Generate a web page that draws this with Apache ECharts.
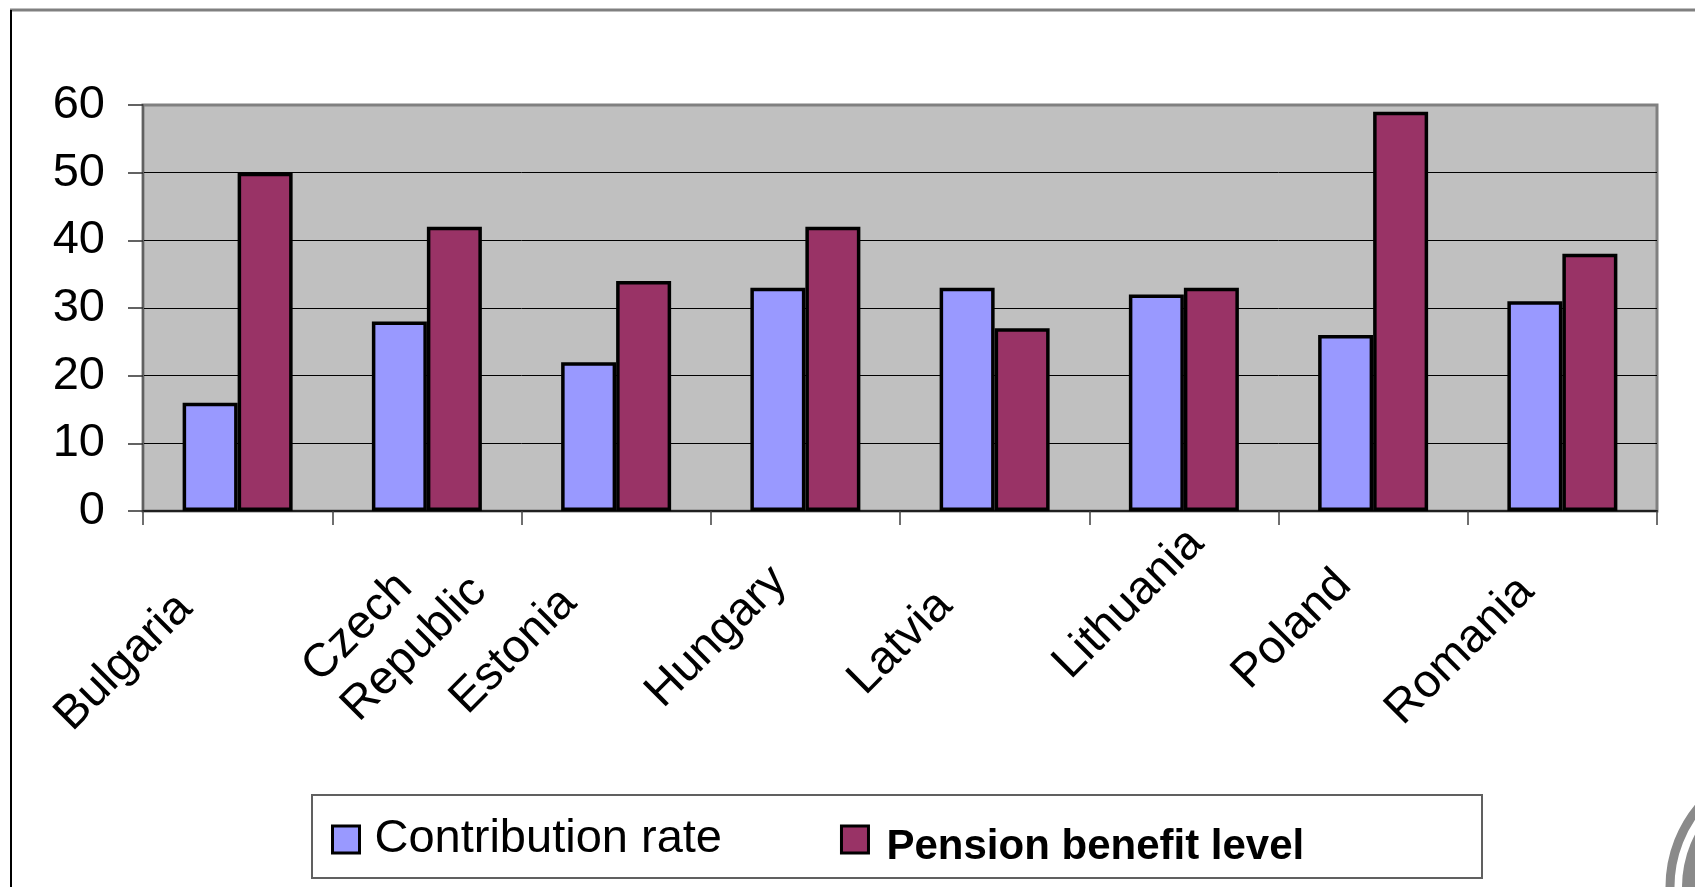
<!DOCTYPE html>
<html>
<head>
<meta charset="utf-8">
<title>Contribution rate and pension benefit level</title>
<script src="https://cdn.jsdelivr.net/npm/echarts@6/dist/echarts.min.js"></script>
<style>
  html, body { margin: 0; padding: 0; background: #fff; }
  #chart { width: 1695px; height: 887px; }
</style>
</head>
<body>
<div id="chart"></div>
<script>
// Values per country
const categories = ['Bulgaria', 'Czech Republic', 'Estonia', 'Hungary', 'Latvia', 'Lithuania', 'Poland', 'Romania'];
const contributionRate = [16, 28, 22, 33, 33, 32, 26, 31];
const pensionBenefitLevel = [50, 42, 34, 42, 27, 33, 59, 38];
const seriesNames = ['Contribution rate', 'Pension benefit level'];
const yMin = 0, yMax = 60, yStep = 10;

const FONT = "'Liberation Sans', Arial, sans-serif";
const LABEL_SIZE = 47;
const LABEL_LINE = 55;

// Placement of each rotated category label along its own baseline:
// [shift back along the text, shift across the text]
const labelShift = [[101, 53], [15, 122], [93, 53], [63, 53], [97, 53], [9, 53], [68, 53], [77, 53]];

const rich = {};
labelShift.forEach(function (s, i) {
  const base = { fontSize: LABEL_SIZE, fontFamily: FONT, color: '#000', lineHeight: LABEL_LINE, align: 'left' };
  // single-line label
  rich['l' + i] = Object.assign({}, base, { padding: [s[1], s[0], 0, 0] });
  // two-line label: spacer line, then the words
  rich['s' + i] = Object.assign({}, base, { lineHeight: s[1] });
  rich['t' + i] = Object.assign({}, base);
  rich['b' + i] = Object.assign({}, base, { padding: [0, s[0], 0, 0] });
});

function categoryLabel(value, index) {
  const words = value.split(' ');
  if (words.length > 1) {
    return '{s' + index + '|\u00a0}\n{t' + index + '|' + words[0] + '}\n{b' + index + '|' + words.slice(1).join(' ') + '}';
  }
  return '{l' + index + '|' + value + '}';
}

const chart = echarts.init(document.getElementById('chart'), null, { renderer: 'canvas' });

const option = {
  backgroundColor: '#ffffff',
  animation: false,
  textStyle: { fontFamily: FONT },
  grid: {
    left: 143, right: 38, top: 105, bottom: 376,
    show: true,
    backgroundColor: '#C0C0C0',
    borderColor: '#808080',
    borderWidth: 3,
    outerBoundsMode: 'none',
    containLabel: false
  },
  legend: {
    left: 331,
    top: 816,
    padding: 0,
    itemWidth: 27,
    itemHeight: 27,
    itemGap: 118,
    icon: 'rect',
    selectedMode: false,
    itemStyle: { borderColor: '#000', borderWidth: 3 },
    data: seriesNames,
    formatter: function (name) {
      return name === seriesNames[0] ? '{a|' + name + '}' : '{b|' + name + '}';
    },
    textStyle: {
      color: '#000',
      rich: {
        a: { fontSize: 47, fontFamily: FONT, color: '#000', padding: [0, 0, 0, 10] },
        b: { fontSize: 42, fontFamily: FONT, fontWeight: 'bold', color: '#000', padding: [16, 0, 0, 13] }
      }
    },
    z: 10
  },
  xAxis: {
    type: 'category',
    data: categories,
    boundaryGap: true,
    axisLine: { show: true, lineStyle: { color: '#202020', width: 2 } },
    axisTick: { show: true, interval: 0, length: 14, lineStyle: { color: '#404040', width: 1.5 } },
    axisLabel: {
      interval: 0,
      rotate: 45,
      margin: 0,
      formatter: categoryLabel,
      rich: rich,
      color: '#000',
      fontSize: LABEL_SIZE,
      fontFamily: FONT
    },
    splitLine: { show: false }
  },
  yAxis: {
    type: 'value',
    min: yMin,
    max: yMax,
    interval: yStep,
    axisLine: { show: true, lineStyle: { color: '#606060', width: 2 } },
    axisTick: { show: true, length: 15, lineStyle: { color: '#303030', width: 1.5 } },
    axisLabel: { margin: 38, fontSize: 47, fontFamily: FONT, color: '#000', padding: [5, 0, 0, 0] },
    splitLine: { show: true, showMaxLine: false, lineStyle: { color: '#000', width: 1 } }
  },
  series: [
    {
      name: seriesNames[0],
      type: 'bar',
      data: contributionRate,
      barWidth: 55,
      barGap: '0%',
      itemStyle: { color: '#9999FF', borderColor: '#000', borderWidth: 3.5 }
    },
    {
      name: seriesNames[1],
      type: 'bar',
      data: pensionBenefitLevel,
      barWidth: 55,
      barGap: '0%',
      itemStyle: { color: '#993366', borderColor: '#000', borderWidth: 3.5 }
    }
  ],
  graphic: [
    // outer frame edges
    { type: 'line', shape: { x1: 10, y1: 10, x2: 1695, y2: 10 }, style: { stroke: '#808080', lineWidth: 3 }, z: 1 },
    { type: 'line', shape: { x1: 11, y1: 10, x2: 11, y2: 887 }, style: { stroke: '#000', lineWidth: 2 }, z: 1 },
    // legend box
    { type: 'rect', shape: { x: 312, y: 795, width: 1170, height: 83 }, style: { fill: '#fff', stroke: '#606060', lineWidth: 2 }, z: 1 },
    // corner emblem
    { type: 'circle', shape: { cx: 1795, cy: 887, r: 125 }, style: { fill: 'none', stroke: '#8a8a8a', lineWidth: 9 }, z: 1 },
    { type: 'circle', shape: { cx: 1795, cy: 887, r: 113 }, style: { fill: '#8a8a8a' }, z: 1 }
  ]
};

chart.setOption(option);
</script>
</body>
</html>
